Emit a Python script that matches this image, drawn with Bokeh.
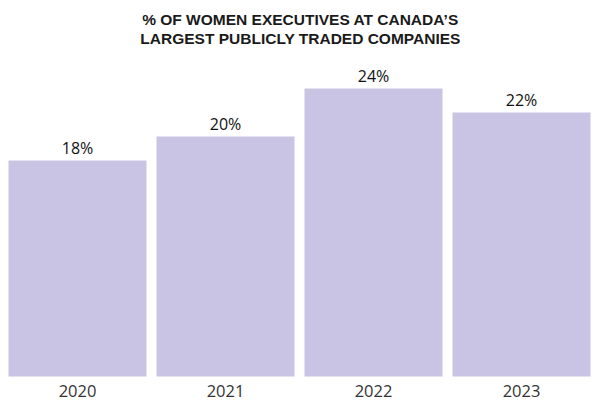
from bokeh.plotting import figure
from bokeh.models import Range1d, Title, ColumnDataSource
from bokeh.core.properties import value
from bokeh.embed import file_html
from bokeh.resources import INLINE

years = ["2020", "2021", "2022", "2023"]
shares = [18, 20, 24, 22]
share_labels = ["18%", "20%", "24%", "22%"]
title_lines = ["% OF WOMEN EXECUTIVES AT CANADA\u2019S", "LARGEST PUBLICLY TRADED COMPANIES"]

BAR = "#c9c4e3"
TFONT = "Liberation Sans"
FONT = "Open Sans"

src = ColumnDataSource(dict(
    x=list(range(len(years))),
    year=years,
    share=shares,
    label=share_labels,
    zero=[0] * len(years),
))

p = figure(
    width=600, height=400,
    x_range=Range1d(-0.5203, 3.5338),
    y_range=Range1d(-2.0, 27.5),
    output_backend="svg", toolbar_location=None,
    min_border=0, min_border_top=46,
)
# thin spacer as the outermost title slot
p.title.text = " "
p.title.text_font_size = "1px"
p.title.standoff = 3

t2 = Title(text=title_lines[1], align="center", text_font=TFONT, text_font_size="15.5px",
           text_font_style="bold", text_color="#1a1a1a", standoff=0)
t1 = Title(text=title_lines[0], align="center", text_font=TFONT, text_font_size="15.5px",
           text_font_style="bold", text_color="#1a1a1a", standoff=0)
p.add_layout(t2, "above")
p.add_layout(t1, "above")

p.vbar(x="x", top="share", bottom=0, width=0.9324, source=src, fill_color=BAR, line_color=None)

p.text(x="x", y="share", text="label", source=src, text_align="center", text_baseline="alphabetic",
       y_offset=-13, text_font=value(FONT), text_font_size="16px", text_color="#111111")

p.text(x="x", y="zero", text="year", source=src, text_align="center", text_baseline="alphabetic",
       y_offset=14, text_font=value(FONT), text_font_size="16.5px", text_color="#333333")

p.axis.visible = False
p.xgrid.visible = False
p.ygrid.visible = False
p.outline_line_color = None
p.background_fill_color = "white"
p.border_fill_color = "white"

open("out.html", "w").write(file_html(p, INLINE))
